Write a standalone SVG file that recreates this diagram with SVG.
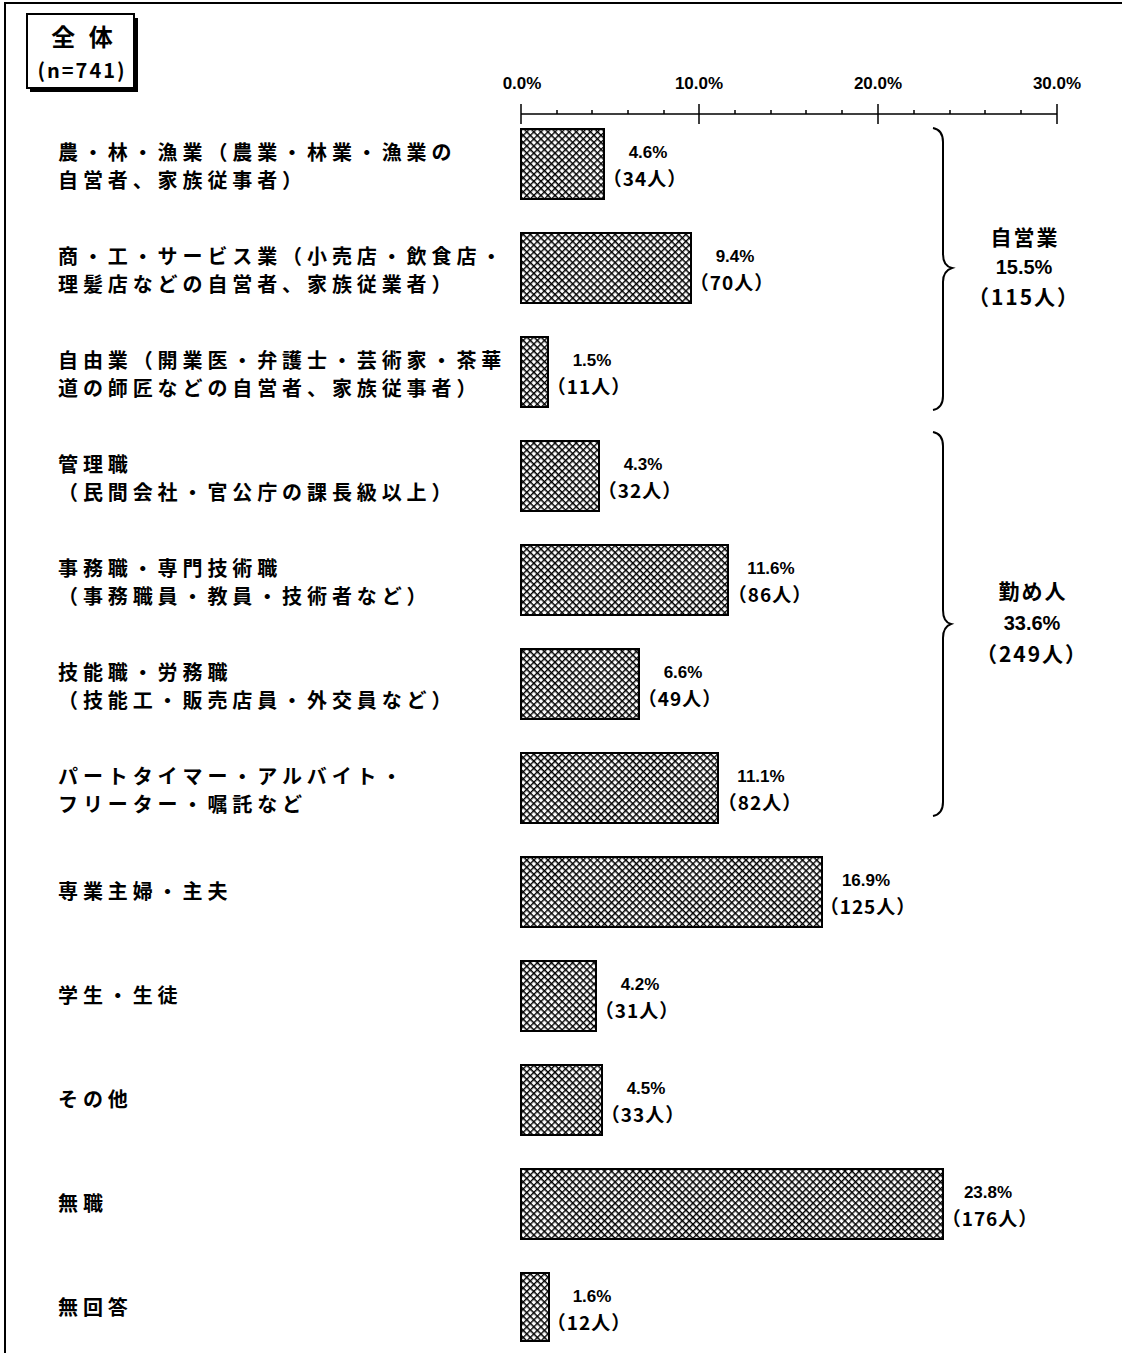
<svg xmlns="http://www.w3.org/2000/svg" width="1122" height="1353" viewBox="0 0 1122 1353">
<defs>
<pattern id="hatch" patternUnits="userSpaceOnUse" width="5" height="5" patternTransform="rotate(45)">
<rect width="5" height="5" fill="#fff"/>
<path d="M0,0 H5 M0,0 V5" stroke="#000" stroke-width="2.8"/>
</pattern>
</defs>
<style>
.jp{font-family:"Noto Sans CJK JP","Noto Sans CJK SC",sans-serif;font-weight:bold;fill:#000}
.lbl{font-size:20px;letter-spacing:4.9px}
.pct{font-family:"Liberation Sans",Arial,sans-serif;font-weight:bold;font-size:17px;fill:#000;text-anchor:middle}
.cnt{font-family:"Noto Sans CJK JP",sans-serif;font-weight:bold;font-size:19px;letter-spacing:1px;fill:#000;text-anchor:middle}
.bar{fill:url(#hatch);stroke:#000;stroke-width:2}
.ax{stroke:#000;stroke-width:1.5;fill:none}
.brace{stroke:#000;stroke-width:2;fill:none}
.grp{font-family:"Noto Sans CJK JP",sans-serif;font-weight:bold;font-size:21px;letter-spacing:2px;fill:#000;text-anchor:middle}
.grpn{font-family:"Liberation Sans",Arial,sans-serif;font-weight:bold;font-size:20px;fill:#000;text-anchor:middle}
</style>
<rect width="1122" height="1353" fill="#fff"/>
<!-- frame -->
<path d="M5,1353 V3 H1122" stroke="#000" stroke-width="2" fill="none"/>
<!-- title box -->
<g id="title">
<rect x="30" y="18" width="108" height="74" fill="#000"/>
<rect x="27" y="14" width="107" height="74" fill="#fff" stroke="#000" stroke-width="2"/>
<text class="jp" x="84" y="46" font-size="24" letter-spacing="4" text-anchor="middle">全 体</text>
<text class="jp" x="82" y="78" font-size="20" letter-spacing="2" text-anchor="middle">(n=741)</text>
</g>
<!-- axis -->
<g id="axis">
<path class="ax" d="M521,114 H1057 M521,104 V124 M699,104 V124 M878,104 V124 M1057,104 V124 M557,110 V114 M592,110 V114 M628,110 V114 M664,110 V114 M735,110 V114 M771,110 V114 M806,110 V114 M842,110 V114 M914,110 V114 M950,110 V114 M985,110 V114 M1021,110 V114"/>
<text class="pct" x="522" y="89" font-size="15">0.0%</text>
<text class="pct" x="699" y="89" font-size="15">10.0%</text>
<text class="pct" x="878" y="89" font-size="15">20.0%</text>
<text class="pct" x="1057" y="89" font-size="15">30.0%</text>
</g>
<!-- rows -->
<g id="row1"><text class="jp lbl" x="58" y="160">農・林・漁業（農業・林業・漁業の</text><text class="jp lbl" x="58" y="188">自営者、家族従事者）</text>
<rect class="bar" x="521" y="129" width="83" height="70"/><text class="pct" x="648" y="158">4.6%</text><text class="cnt" x="645" y="186">（34人）</text></g>
<g id="row2"><text class="jp lbl" x="58" y="264">商・工・サービス業（小売店・飲食店・</text><text class="jp lbl" x="58" y="292">理髪店などの自営者、家族従業者）</text>
<rect class="bar" x="521" y="233" width="170" height="70"/><text class="pct" x="735" y="262">9.4%</text><text class="cnt" x="732" y="290">（70人）</text></g>
<g id="row3"><text class="jp lbl" x="58" y="368">自由業（開業医・弁護士・芸術家・茶華</text><text class="jp lbl" x="58" y="396">道の師匠などの自営者、家族従事者）</text>
<rect class="bar" x="521" y="337" width="27" height="70"/><text class="pct" x="592" y="366">1.5%</text><text class="cnt" x="589" y="394">（11人）</text></g>
<g id="row4"><text class="jp lbl" x="58" y="472">管理職</text><text class="jp lbl" x="58" y="500">（民間会社・官公庁の課長級以上）</text>
<rect class="bar" x="521" y="441" width="78" height="70"/><text class="pct" x="643" y="470">4.3%</text><text class="cnt" x="640" y="498">（32人）</text></g>
<g id="row5"><text class="jp lbl" x="58" y="576">事務職・専門技術職</text><text class="jp lbl" x="58" y="604">（事務職員・教員・技術者など）</text>
<rect class="bar" x="521" y="545" width="207" height="70"/><text class="pct" x="771" y="574">11.6%</text><text class="cnt" x="770" y="602">（86人）</text></g>
<g id="row6"><text class="jp lbl" x="58" y="680">技能職・労務職</text><text class="jp lbl" x="58" y="708">（技能工・販売店員・外交員など）</text>
<rect class="bar" x="521" y="649" width="118" height="70"/><text class="pct" x="683" y="678">6.6%</text><text class="cnt" x="680" y="706">（49人）</text></g>
<g id="row7"><text class="jp lbl" x="58" y="784">パートタイマー・アルバイト・</text><text class="jp lbl" x="58" y="812">フリーター・嘱託など</text>
<rect class="bar" x="521" y="753" width="197" height="70"/><text class="pct" x="761" y="782">11.1%</text><text class="cnt" x="760" y="810">（82人）</text></g>
<g id="row8"><text class="jp lbl" x="58" y="899">専業主婦・主夫</text>
<rect class="bar" x="521" y="857" width="301" height="70"/><text class="pct" x="866" y="886">16.9%</text><text class="cnt" x="868" y="914">（125人）</text></g>
<g id="row9"><text class="jp lbl" x="58" y="1003">学生・生徒</text>
<rect class="bar" x="521" y="961" width="75" height="70"/><text class="pct" x="640" y="990">4.2%</text><text class="cnt" x="637" y="1018">（31人）</text></g>
<g id="row10"><text class="jp lbl" x="58" y="1107">その他</text>
<rect class="bar" x="521" y="1065" width="81" height="70"/><text class="pct" x="646" y="1094">4.5%</text><text class="cnt" x="643" y="1122">（33人）</text></g>
<g id="row11"><text class="jp lbl" x="58" y="1211">無職</text>
<rect class="bar" x="521" y="1169" width="422" height="70"/><text class="pct" x="988" y="1198">23.8%</text><text class="cnt" x="990" y="1226">（176人）</text></g>
<g id="row12"><text class="jp lbl" x="58" y="1315">無回答</text>
<rect class="bar" x="521" y="1273" width="28" height="68"/><text class="pct" x="592" y="1302">1.6%</text><text class="cnt" x="589" y="1330">（12人）</text></g>
<!-- braces -->
<g id="connectors">
<path class="brace" d="M933,128 Q943,130 943,142 V254 Q943,266 952,268 Q943,271 943,282 V396 Q943,408 933,410"/>
<path class="brace" d="M933,432 Q943,434 943,446 V610 Q943,622 951,624 Q943,627 943,638 V802 Q943,814 933,816"/>
</g>
<g id="group1">
<text class="grp" x="1025" y="245">自営業</text>
<text class="grpn" x="1024" y="274">15.5%</text>
<text class="grp" x="1024" y="305">（115人）</text>
</g>
<g id="group2">
<text class="grp" x="1033" y="599">勤め人</text>
<text class="grpn" x="1032" y="630">33.6%</text>
<text class="grp" x="1032" y="662">（249人）</text>
</g>
</svg>
